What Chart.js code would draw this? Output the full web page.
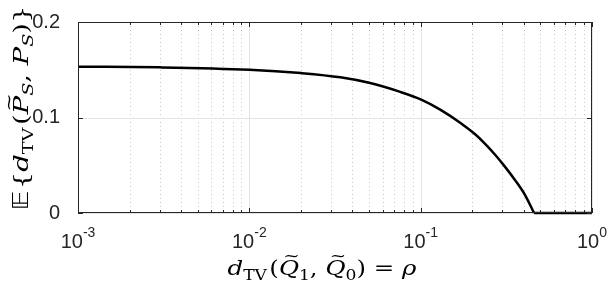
<!DOCTYPE html>
<html>
<head>
<meta charset="utf-8">
<script src="https://cdn.jsdelivr.net/npm/chart.js@4.4.0/dist/chart.umd.min.js"></script>
<style>
  html, body { margin: 0; padding: 0; background: #fff; }
  #wrap { width: 608px; height: 284px; }
</style>
</head>
<body>
<div id="wrap"><canvas id="tv"></canvas></div>
<script>
// rho = d_TV(Q1~, Q0~)
const rhoValues = [0.001, 0.003, 0.01, 0.02, 0.034, 0.05, 0.076, 0.1, 0.13, 0.17, 0.208, 0.237, 0.272, 0.311, 0.355, 0.406, 0.459];
const expectedTV = [0.1532, 0.1525, 0.1500, 0.1465, 0.1421, 0.1363, 0.1268, 0.1190, 0.1083, 0.0946, 0.0824, 0.0727, 0.0610, 0.0483, 0.0346, 0.0190, 0];
// flat part after the curve reaches zero
const rhoFlat = [0.459, 1];
const expectedFlat = [0, 0];

const xMajor = [0.001, 0.01, 0.1, 1];
const xExp = ["-3", "-2", "-1", "0"];
const yTicks = [0, 0.1, 0.2];

const axisColor = "#262626";
const sans = "'Liberation Sans', Arial, sans-serif";
const serif = "'DejaVu Serif', 'Liberation Serif', serif";

// draw text made of pieces (italic, subscript, tilde) starting at x, baseline y
function richWidth(ctx, parts, size) {
  let w = 0;
  parts.forEach(p => {
    const s = p.sub ? size * 0.7 : size;
    ctx.font = (p.it ? "italic " : "") + s + "px " + (p.font || serif);
    w += ctx.measureText(p.t).width + (p.gap || 0);
  });
  return w;
}
function drawRich(ctx, parts, x, y, size) {
  let cx = x;
  parts.forEach(p => {
    const s = p.sub ? size * 0.7 : size;
    ctx.font = (p.it ? "italic " : "") + s + "px " + (p.font || serif);
    const w = ctx.measureText(p.t).width;
    const by = p.sub ? y + size * 0.22 : y;
    ctx.fillText(p.t, cx, by);
    if (p.tilde) {
      ctx.font = size * 0.8 + "px " + serif;
      const tw = ctx.measureText("~").width;
      ctx.fillText("~", cx + w / 2 - tw / 2 + size * 0.1, y - size * 0.66);
    }
    cx += w + (p.gap || 0);
  });
}
// centred at (cx, baseline), stretched sideways to the width it has in the picture
function drawTitle(ctx, parts, cx, base, size, width) {
  const w = richWidth(ctx, parts, size);
  const k = width / w;
  ctx.save();
  ctx.translate(cx - width / 2, base);
  ctx.scale(k, 1);
  drawRich(ctx, parts, 0, 0, size);
  ctx.restore();
}

const yTitle = [
  { t: "\u{1D53C}", font: "'DejaVu Sans', serif", gap: 1 },
  { t: "{" },
  { t: "d", it: true },
  { t: "TV", sub: true, gap: 2 },
  { t: "(" },
  { t: "P", it: true, tilde: true },
  { t: "S", it: true, sub: true },
  { t: ", " },
  { t: "P", it: true },
  { t: "S", it: true, sub: true },
  { t: ")}" }
];
const xTitle = [
  { t: "d", it: true },
  { t: "TV", sub: true, gap: 2 },
  { t: "(" },
  { t: "Q", it: true, tilde: true },
  { t: "1", sub: true },
  { t: ", " },
  { t: "Q", it: true, tilde: true },
  { t: "0", sub: true },
  { t: ") = " },
  { t: "\u03C1", it: true }
];

const matlabAxes = {
  id: "matlabAxes",
  beforeDatasetsDraw(chart) {
    const { ctx, chartArea: a, scales: { x, y } } = chart;
    ctx.save();
    ctx.lineWidth = 1;
    // minor x grid, dotted
    ctx.strokeStyle = "#c8c8c8";
    ctx.setLineDash([1, 3]);
    for (let d = -3; d < 0; d++) {
      for (let k = 2; k <= 9; k++) {
        const px = Math.round(x.getPixelForValue(k * Math.pow(10, d))) + 0.5;
        ctx.beginPath(); ctx.moveTo(px, a.top); ctx.lineTo(px, a.bottom); ctx.stroke();
      }
    }
    // major grid, solid
    ctx.setLineDash([]);
    ctx.strokeStyle = "#e3e3e3";
    xMajor.forEach(v => {
      const px = Math.round(x.getPixelForValue(v)) + 0.5;
      ctx.beginPath(); ctx.moveTo(px, a.top); ctx.lineTo(px, a.bottom); ctx.stroke();
    });
    yTicks.forEach(v => {
      const py = Math.round(y.getPixelForValue(v)) + 0.5;
      ctx.beginPath(); ctx.moveTo(a.left, py); ctx.lineTo(a.right, py); ctx.stroke();
    });
    ctx.restore();
  },
  afterDatasetsDraw(chart) {
    const { ctx, chartArea: a, scales: { x, y } } = chart;
    ctx.save();
    ctx.strokeStyle = axisColor;
    ctx.lineWidth = 1;
    ctx.strokeRect(Math.round(a.left) + 0.5, Math.round(a.top) + 0.5,
      Math.round(a.right - a.left) - 1, Math.round(a.bottom - a.top) - 1);
    // tick marks inside the box
    const tickAt = (px, len) => {
      ctx.beginPath();
      ctx.moveTo(px, a.bottom); ctx.lineTo(px, a.bottom - len);
      ctx.moveTo(px, a.top); ctx.lineTo(px, a.top + len);
      ctx.stroke();
    };
    for (let d = -3; d < 0; d++) {
      for (let k = 2; k <= 9; k++) {
        tickAt(Math.round(x.getPixelForValue(k * Math.pow(10, d))) + 0.5, 3);
      }
    }
    xMajor.forEach(v => tickAt(Math.round(x.getPixelForValue(v)) + 0.5, 5));
    yTicks.forEach(v => {
      const py = Math.round(y.getPixelForValue(v)) + 0.5;
      ctx.beginPath();
      ctx.moveTo(a.left, py); ctx.lineTo(a.left + 5, py);
      ctx.moveTo(a.right, py); ctx.lineTo(a.right - 5, py);
      ctx.stroke();
    });

    // x tick labels 10^n
    ctx.fillStyle = axisColor;
    ctx.textBaseline = "alphabetic";
    ctx.textAlign = "left";
    xMajor.forEach((v, i) => {
      ctx.font = "20px " + sans;
      const w1 = ctx.measureText("10").width;
      ctx.font = "14px " + sans;
      const w2 = ctx.measureText(xExp[i]).width;
      const left = x.getPixelForValue(v) - (w1 + w2) / 2;
      ctx.font = "20px " + sans;
      ctx.fillText("10", left, 248);
      ctx.font = "14px " + sans;
      ctx.fillText(xExp[i], left + w1, 237);
    });

    // axis titles
    ctx.fillStyle = "#000";
    drawTitle(ctx, xTitle, 322, 275, 21, 189);

    ctx.translate(28, 108);
    ctx.rotate(-Math.PI / 2);
    drawTitle(ctx, yTitle, 0, 0, 21, 205);
    ctx.restore();
  }
};

new Chart("tv", {
  type: "line",
  data: {
    datasets: [{
      data: rhoValues.map((r, i) => ({ x: r, y: expectedTV[i] })),
      borderColor: "#000",
      borderWidth: 2.5,
      pointRadius: 0,
      cubicInterpolationMode: "monotone",
      clip: false
    }, {
      data: rhoFlat.map((r, i) => ({ x: r, y: expectedFlat[i] })),
      borderColor: "#000",
      borderWidth: 2.5,
      pointRadius: 0,
      clip: false
    }]
  },
  options: {
    responsive: true,
    maintainAspectRatio: false,
    animation: false,
    layout: { padding: { left: 0, right: 16, top: 8, bottom: 0 } },
    plugins: { legend: { display: false }, tooltip: { enabled: false } },
    scales: {
      x: {
        type: "logarithmic",
        min: 0.001,
        max: 1,
        ticks: { display: false },
        grid: { display: false },
        border: { display: false },
        afterFit: s => { s.height = 71; }
      },
      y: {
        min: 0,
        max: 0.2,
        ticks: {
          stepSize: 0.1,
          padding: 10,
          color: axisColor,
          font: { family: "'Liberation Sans', Arial, sans-serif", size: 20 },
          callback: v => (v === 0 ? "0" : v.toFixed(1))
        },
        grid: { display: false },
        border: { display: false },
        afterFit: s => { s.width = 78; }
      }
    }
  },
  plugins: [matlabAxes]
});
</script>
</body>
</html>
